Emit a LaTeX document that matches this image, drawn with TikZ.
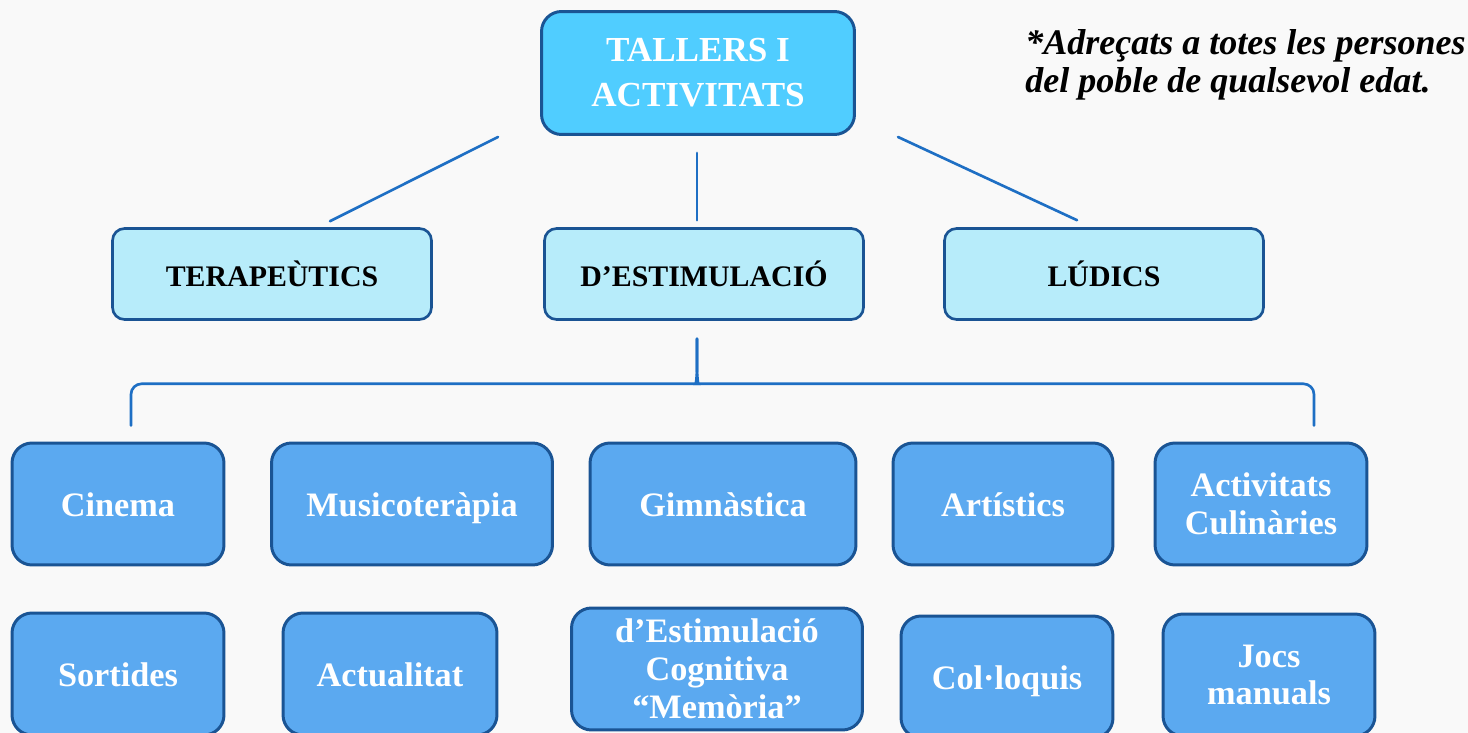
\documentclass[tikz,border=0pt]{standalone}
\usepackage{fontspec}
\setmainfont{Liberation Serif}
\usepackage{tikz}
\usetikzlibrary{positioning, calc}
\definecolor{rootcyan}{RGB}{80,205,255}
\definecolor{catcyan}{RGB}{183,236,250}
\definecolor{tallerblue}{RGB}{91,169,240}
\definecolor{edgenavy}{RGB}{26,84,148}
\definecolor{linkblue}{RGB}{30,111,196}
\definecolor{paper}{RGB}{249,249,249}
\tikzset{
    rootbox/.style={rectangle, draw=edgenavy, fill=rootcyan, rounded corners=0.4cm, minimum width=6.26cm, minimum height=2.46cm, align=center, text=white, font=\bfseries\fontsize{20}{25.5}\selectfont, line width=1.7pt},
    catbox/.style={rectangle, draw=edgenavy, fill=catcyan, rounded corners=0.24cm, minimum width=6.38cm, minimum height=1.82cm, align=center, font=\bfseries\fontsize{17}{20}\selectfont, line width=1.5pt},
    tallerbox/.style={rectangle, draw=edgenavy, fill=tallerblue, rounded corners=0.4cm, minimum width=#1, minimum height=2.44cm, align=center, text=white, font=\bfseries\fontsize{19.5}{21.5}\selectfont, line width=1.7pt, inner sep=1pt},
    tallerbox/.default=4.24cm,
    oneline/.style={text height=14.5pt, text depth=0pt},
    link/.style={draw=linkblue, line width=1.5pt, line cap=round},
    notetext/.style={font=\bfseries\itshape\fontsize{20.5}{22}\selectfont, align=left, anchor=north west, inner sep=0pt}
}

\begin{document}
\begin{tikzpicture}[x=0.02cm, y=-0.02cm]

\useasboundingbox (0,0) rectangle (1468,733);
\fill[paper] (0,0) rectangle (1468,733);
\clip (0,0) rectangle (1468,733);

% top
\node[rootbox] (root) at (698,73) {TALLERS I\\ACTIVITATS};
\node[notetext] (note) at (1025,29) {*Adreçats a totes les persones\\del poble de qualsevol edat.};

% categories
\node[catbox] (ter) at (272,274) {TERAPEÙTICS};
\node[catbox] (est) at (704,274) {D’ESTIMULACIÓ};
\node[catbox] (lud) at (1104,274) {LÚDICS};

\draw[link] ([shift={(-200,1)}]root.south) -- ([shift={(58,-6)}]ter.north);
\draw[link] ([shift={(-1,17)}]root.south) -- ([shift={(-7,-7)}]est.north);
\draw[link] ([shift={(200,1)}]root.south) -- ([shift={(-27,-7)}]lud.north);

% tallers
\node[tallerbox, oneline] (cin) at (118,504) {Cinema};
\node[tallerbox=5.62cm, oneline] (mus) at (412,504) {Musicoteràpia};
\node[tallerbox=5.32cm, oneline] (gim) at (723,504) {Gimnàstica};
\node[tallerbox=4.4cm, oneline] (art) at (1003,504) {Artístics};
\node[tallerbox] (cul) at (1261,504) {Activitats\\Culinàries};

\node[tallerbox, oneline] (sor) at (118,674) {Sortides};
\node[tallerbox=4.28cm, oneline] (actu) at (390,674) {Actualitat};
\node[tallerbox=5.82cm] (mem) at (717,669) {d’Estimulació\\Cognitiva\\“Memòria”};
\node[tallerbox, oneline] (col) at (1007,677) {Col·loquis};
\node[tallerbox] (joc) at (1269,675) {Jocs\\manuals};

% brace
\coordinate (tip) at ([shift={(-7,18)}]est.south);
\coordinate (lend) at ([shift={(13,-16)}]cin.north);
\coordinate (rend) at ([shift={(53,-16)}]cul.north);
\draw[link, rounded corners=6pt] (lend) |- ($(tip)+(-9,45)$) to[out=0,in=-90] ($(tip)+(0,22)$) -- (tip);
\draw[link, rounded corners=6pt] (rend) |- ($(tip)+(9,45)$) to[out=180,in=-90] ($(tip)+(0,22)$) -- (tip);

\end{tikzpicture}
\end{document}
